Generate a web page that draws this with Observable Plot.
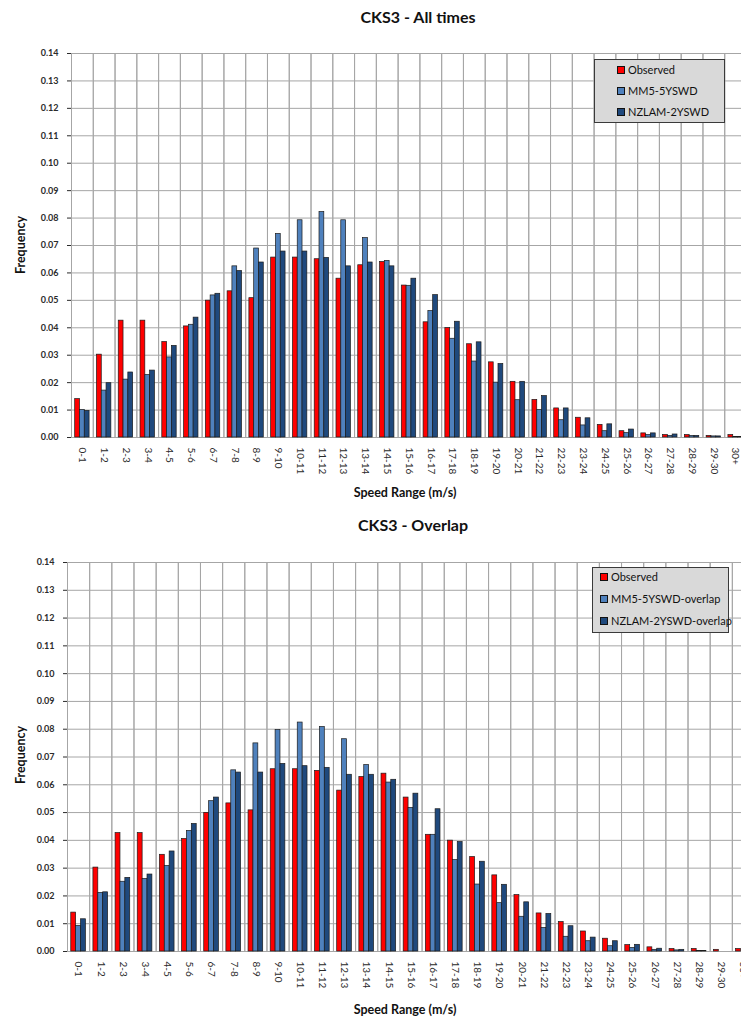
<!DOCTYPE html>
<html>
<head>
<meta charset="utf-8">
<script src="https://cdn.jsdelivr.net/npm/d3@7"></script>
<script src="https://cdn.jsdelivr.net/npm/@observablehq/plot@0.6"></script>
<style>
  html, body { margin: 0; padding: 0; background: #fff; }
  body { width: 741px; height: 1024px; overflow: hidden; position: relative; font-family: Lato, "Open Sans", sans-serif; }
  .abs { position: absolute; }
  .title { font-weight: 700; font-size: 16px; color: #111; transform: translateX(-50%); white-space: nowrap; }
  .xlabel { font-weight: 700; font-size: 12.5px; color: #111; transform: translateX(-50%); white-space: nowrap; }
  .ylabel { font-weight: 700; font-size: 12.5px; color: #111; transform: translate(-50%, -50%) rotate(-90deg); white-space: nowrap; }
  .legend { background: #d9d9d9; border: 1px solid #3a3a3a; box-sizing: border-box; font-size: 11px; color: #111; }
  .legend .item { position: absolute; display: flex; align-items: center; white-space: nowrap; }
  .legend .sw { width: 6px; height: 6px; border: 1px solid #111; margin-right: 3px; }
</style>
</head>
<body>
<script>
// Speed bins (m/s)
const categories = ["0-1","1-2","2-3","3-4","4-5","5-6","6-7","7-8","8-9","9-10","10-11","11-12","12-13","13-14","14-15","15-16","16-17","17-18","18-19","19-20","20-21","21-22","22-23","23-24","24-25","25-26","26-27","27-28","28-29","29-30","30+"];

// Observed frequency per speed bin (shared by both panels)
const observed = [0.0140,0.0302,0.0426,0.0426,0.0348,0.0405,0.0499,0.0533,0.0508,0.0656,0.0656,0.0650,0.0579,0.0628,0.0640,0.0554,0.0420,0.0399,0.0340,0.0274,0.0203,0.0137,0.0106,0.0072,0.0046,0.0023,0.0015,0.0009,0.0009,0.0006,0.0009];

// All times
const mm5All = [0.0100,0.0171,0.0211,0.0228,0.0292,0.0411,0.0518,0.0624,0.0689,0.0742,0.0792,0.0822,0.0792,0.0727,0.0644,0.0553,0.0461,0.0360,0.0277,0.0200,0.0136,0.0100,0.0063,0.0044,0.0023,0.0016,0.0009,0.0006,0.0006,0.0004,0.0002];
const nzlamAll = [0.0097,0.0198,0.0237,0.0244,0.0334,0.0437,0.0524,0.0607,0.0638,0.0678,0.0678,0.0655,0.0624,0.0638,0.0624,0.0579,0.0519,0.0422,0.0347,0.0268,0.0203,0.0151,0.0106,0.0070,0.0048,0.0029,0.0015,0.0011,0.0006,0.0004,0.0002];

// Overlap period
const mm5Overlap = [0.0092,0.0211,0.0251,0.0261,0.0308,0.0434,0.0541,0.0652,0.0749,0.0797,0.0824,0.0808,0.0764,0.0671,0.0608,0.0517,0.0420,0.0329,0.0241,0.0174,0.0125,0.0085,0.0053,0.0037,0.0019,0.0013,0.0006,0.0004,0.0002,0.0000,0.0000];
const nzlamOverlap = [0.0116,0.0213,0.0265,0.0277,0.0360,0.0459,0.0554,0.0644,0.0644,0.0675,0.0667,0.0661,0.0636,0.0636,0.0618,0.0568,0.0512,0.0394,0.0323,0.0240,0.0177,0.0135,0.0091,0.0050,0.0037,0.0024,0.0010,0.0006,0.0002,0.0000,0.0000];

const seriesAll = ["Observed", "MM5-5YSWD", "NZLAM-2YSWD"];
const seriesOverlap = ["Observed", "MM5-5YSWD-overlap", "NZLAM-2YSWD-overlap"];
const seriesColors = ["#ff0000", "#4f81bd", "#1f497d"];
const yTicks = d3.range(15).map(i => i / 100);

function addDiv(cls, text, style) {
  const d = document.createElement("div");
  d.className = "abs " + cls;
  d.textContent = text;
  Object.assign(d.style, style);
  document.body.appendChild(d);
  return d;
}

function addLegend(names, box, squareLeft, rowTops) {
  const lg = document.createElement("div");
  lg.className = "abs legend";
  Object.assign(lg.style, box);
  names.forEach((n, i) => {
    const it = document.createElement("div");
    it.className = "item";
    it.style.left = squareLeft + "px";
    it.style.top = rowTops[i] + "px";
    const sw = document.createElement("span");
    sw.className = "sw";
    sw.style.background = seriesColors[i];
    it.appendChild(sw);
    it.appendChild(document.createTextNode(n));
    lg.appendChild(it);
  });
  document.body.appendChild(lg);
}

// Grouped bars: one facet per speed bin, three series side by side inside it
function chart(names, mm5, nzlam, layout) {
  const rows = categories.flatMap((c, i) => [
    {cat: c, series: names[0], v: observed[i]},
    {cat: c, series: names[1], v: mm5[i]},
    {cat: c, series: names[2], v: nzlam[i]}
  ]);
  return Plot.plot({
    width: layout.width,
    height: layout.height,
    marginLeft: layout.marginLeft,
    marginRight: 2,
    marginTop: layout.marginTop,
    marginBottom: layout.marginBottom,
    style: {fontFamily: "Lato, 'Open Sans', sans-serif", fontSize: "10px", color: "#2b2b2b", background: "transparent", maxWidth: "none"},
    fx: {domain: categories, padding: 0, round: false, axis: "bottom", tickRotate: 90, tickSize: 0, tickPadding: 10, label: null},
    x: {domain: names, axis: null, round: false, paddingInner: 0, paddingOuter: 0.77},
    y: {domain: [0, 0.14], ticks: yTicks, tickFormat: d3.format(".2f"), tickSize: 4, tickPadding: 9, label: null},
    color: {domain: names, range: seriesColors},
    marks: [
      Plot.ruleY(yTicks, {stroke: "#a6a6a6", strokeWidth: 1}),
      Plot.frame({stroke: "#a6a6a6", strokeWidth: 1}),
      Plot.barY(rows, {fx: "cat", x: "series", y: "v", fill: "series", stroke: "#1b1b1b", strokeWidth: 0.7})
    ]
  });
}

function place(svg, top) {
  svg.style.position = "absolute";
  svg.style.left = "0px";
  svg.style.top = top + "px";
  svg.querySelectorAll("g[aria-label='y-axis tick label'] text").forEach(t => {
    t.setAttribute("font-weight", "700");
    t.setAttribute("font-size", "9");
  });
  document.body.appendChild(svg);
}

// Panel 1: all times
addDiv("title", "CKS3 - All times", {left: "418px", top: "7px"});
place(chart(seriesAll, mm5All, nzlamAll, {width: 748, height: 447, marginLeft: 71, marginTop: 23, marginBottom: 40}), 30);
addDiv("xlabel", "Speed Range (m/s)", {left: "405px", top: "485px"});
addDiv("ylabel", "Frequency", {left: "20px", top: "245px"});
addLegend(seriesAll, {left: "594px", top: "59px", width: "131px", height: "64px"}, 22, [3, 24, 45]);

// Panel 2: overlap period
addDiv("title", "CKS3 - Overlap", {left: "413px", top: "515px"});
place(chart(seriesOverlap, mm5Overlap, nzlamOverlap, {width: 756, height: 451, marginLeft: 67, marginTop: 22, marginBottom: 40}), 540);
addDiv("xlabel", "Speed Range (m/s)", {left: "405px", top: "1002px"});
addDiv("ylabel", "Frequency", {left: "20px", top: "755px"});
addLegend(seriesOverlap, {left: "592px", top: "567px", width: "137px", height: "66px"}, 7, [2, 24, 46]);
</script>
</body>
</html>
